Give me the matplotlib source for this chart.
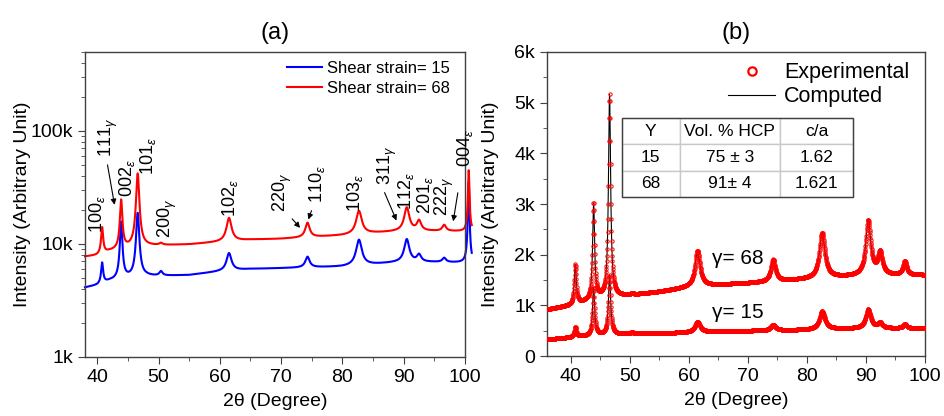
import matplotlib
matplotlib.use("Agg")
import matplotlib.pyplot as plt
import numpy as np
from matplotlib.lines import Line2D
from matplotlib.patches import Rectangle
from matplotlib.ticker import FuncFormatter, LogLocator, MultipleLocator, NullFormatter

plt.rcParams["font.family"] = ["Liberation Sans", "DejaVu Sans"]
plt.rcParams["mathtext.fontset"] = "custom"
plt.rcParams["mathtext.rm"] = "Liberation Sans"
plt.rcParams["mathtext.it"] = "Liberation Sans:italic"

# ---- panel (a): XRD patterns, log intensity ----
a_bg_x = [38, 40, 42, 45, 48, 50, 55, 60, 65, 70, 75, 80, 85, 88, 90, 95, 101.1]
a_bg_15 = [4100, 4300, 4700, 5000, 5200, 5200, 5300, 5700, 6000, 6100, 6200, 6300, 6600, 6800, 6900, 6900, 6800]
a_bg_68 = [7700, 7900, 8600, 9200, 9600, 9700, 9900, 10400, 10900, 11100, 11500, 11900, 12500, 12800, 13000, 13000, 12900]
a_peak_pos = [40.8, 43.9, 46.6, 50.4, 61.5, 74.3, 82.7, 90.5, 92.5, 96.6, 100.6]
a_peak_width = [0.18, 0.2, 0.25, 0.3, 0.45, 0.4, 0.5, 0.45, 0.4, 0.35, 0.12]
a_top_15 = [6800, 15700, 18800, 5700, 8300, 7700, 10900, 11000, 8000, 7500, 35000]
a_top_68 = [14000, 24500, 42000, 10100, 17000, 15400, 19600, 21000, 16000, 14700, 45000]

# peak labels: text, x, y (bottom of rotated text)
a_labels = ["$100_{\\varepsilon}$", "$111_{\\gamma}$", "$002_{\\varepsilon}$", "$101_{\\varepsilon}$",
            "$200_{\\gamma}$", "$102_{\\varepsilon}$", "$220_{\\gamma}$", "$110_{\\varepsilon}$",
            "$103_{\\varepsilon}$", "$311_{\\gamma}$", "$112_{\\varepsilon}$", "$201_{\\varepsilon}$",
            "$222_{\\gamma}$", "$004_{\\varepsilon}$"]
a_label_x = [40.0, 41.8, 44.9, 48.3, 51.4, 61.7, 70.2, 75.9, 82.1, 87.3, 90.4, 93.5, 96.7, 100.0]
a_label_y = [12500, 59000, 26000, 41000, 11300, 17400, 19200, 23000, 19200, 33000, 20000, 18500, 17500, 48000]
# arrows: start -> tip
a_arrows = [((41.6, 53000), (42.9, 21000)),
            ((71.5, 17400), (73.4, 13300)),
            ((75.1, 20800), (74.3, 15600)),
            ((86.7, 30000), (89.0, 15300)),
            ((98.9, 30000), (98.0, 15000))]

# ---- panel (b): Rietveld fit, linear intensity ----
b_bg_x = [36, 40, 45, 50, 55, 60, 65, 70, 75, 80, 85, 90, 95, 100]
b_bg_15 = [330, 370, 420, 440, 450, 470, 490, 500, 510, 520, 540, 550, 550, 550]
b_bg_68 = [920, 1000, 1150, 1200, 1270, 1360, 1410, 1440, 1480, 1520, 1560, 1590, 1600, 1600]
b_peak_pos = [40.8, 43.9, 46.6, 50.4, 61.5, 74.3, 82.6, 90.4, 92.4, 96.6]
b_peak_width = [0.2, 0.2, 0.22, 0.3, 0.5, 0.45, 0.55, 0.5, 0.45, 0.35]
b_top_15 = [570, 1350, 1600, 470, 680, 620, 880, 920, 650, 630]
b_top_68 = [1800, 3000, 5150, 1230, 2080, 1900, 2430, 2660, 2030, 1870]

table_cols = ["Y", "Vol. % HCP", "c/a"]
table_rows = [["15", "75 ± 3", "1.62"], ["68", "91± 4", "1.621"]]


def pattern(x, bg_x, bg_y, pos, width, top):
    bg = np.interp(x, bg_x, bg_y)
    y = bg.copy()
    for p, w, t in zip(pos, width, top):
        amp = t - np.interp(p, bg_x, bg_y)
        y += amp * w ** 2 / ((x - p) ** 2 + w ** 2)
    return y


fig = plt.figure(figsize=(9.44, 4.16), dpi=100)
ax_a = fig.add_axes([0.090, 0.142, 0.4026, 0.733])
ax_b = fig.add_axes([0.5794, 0.144, 0.4004, 0.731])

spine_col = "#404040"
for ax in (ax_a, ax_b):
    for s in ax.spines.values():
        s.set_color(spine_col)
        s.set_linewidth(1.0)
    ax.tick_params(which="both", direction="out", colors=spine_col, labelcolor="black",
                   labelsize=14, top=False, right=False)
    ax.tick_params(which="major", length=5)
    ax.tick_params(which="minor", length=3)

# panel (a)
xa = np.linspace(38, 101.1, 4000)
ya15 = pattern(xa, a_bg_x, a_bg_15, a_peak_pos, a_peak_width, a_top_15)
ya68 = pattern(xa, a_bg_x, a_bg_68, a_peak_pos, a_peak_width, a_top_68)
ax_a.plot(xa, ya15, color="#0000ff", lw=1.5, label="Shear strain= 15", clip_on=False)
ax_a.plot(xa, ya68, color="#ff0000", lw=1.5, label="Shear strain= 68", clip_on=False)
ax_a.set_yscale("log")
ax_a.set_xlim(38, 100)
ax_a.set_ylim(1000, 500000)
ax_a.set_yticks([1000, 10000, 100000])
ax_a.yaxis.set_major_formatter(FuncFormatter(lambda v, p: f"{v / 1000:g}k"))
ax_a.yaxis.set_minor_locator(LogLocator(base=10, subs=np.arange(2, 10)))
ax_a.yaxis.set_minor_formatter(NullFormatter())
ax_a.xaxis.set_major_locator(MultipleLocator(10))
ax_a.xaxis.set_minor_locator(MultipleLocator(5))
ax_a.set_xlabel("2θ (Degree)", fontsize=14, labelpad=5)
ax_a.set_ylabel("Intensity (Arbitrary Unit)", fontsize=14, labelpad=0)
ax_a.set_title("(a)", fontsize=17, pad=9)
ax_a.legend(loc="upper right", bbox_to_anchor=(1.0, 1.02), frameon=False, fontsize=12,
            handlelength=2.1, handletextpad=0.3, labelspacing=0.3)

for txt, lx, ly in zip(a_labels, a_label_x, a_label_y):
    ax_a.text(lx, ly, txt, rotation=90, ha="center", va="bottom", fontsize=13)
for (sx, sy), (tx, ty) in a_arrows:
    ax_a.annotate("", xy=(tx, ty), xytext=(sx, sy),
                  arrowprops=dict(arrowstyle="-|>", color="black", lw=0.8, mutation_scale=8))

# panel (b)
xb = np.linspace(36, 100, 1601)
yb15 = pattern(xb, b_bg_x, b_bg_15, b_peak_pos, b_peak_width, b_top_15)
yb68 = pattern(xb, b_bg_x, b_bg_68, b_peak_pos, b_peak_width, b_top_68)
for yb in (yb15, yb68):
    ax_b.plot(xb, yb, color="black", lw=0.8, zorder=2)
    ax_b.plot(xb, yb, ls="none", marker="o", ms=2.4, mfc="none", mec="#ff0000", mew=0.7, zorder=3)
ax_b.set_xlim(36, 100)
ax_b.set_ylim(0, 6000)
ax_b.yaxis.set_major_locator(MultipleLocator(1000))
ax_b.yaxis.set_minor_locator(MultipleLocator(500))
ax_b.yaxis.set_major_formatter(FuncFormatter(lambda v, p: "0" if v == 0 else f"{v / 1000:g}k"))
ax_b.xaxis.set_major_locator(MultipleLocator(10))
ax_b.xaxis.set_minor_locator(MultipleLocator(5))
ax_b.set_xlabel("2θ (Degree)", fontsize=14, labelpad=5)
ax_b.set_ylabel("Intensity (Arbitrary Unit)", fontsize=14, labelpad=11)
ax_b.set_title("(b)", fontsize=17, pad=9)
ax_b.text(68.4, 1930, "γ= 68", fontsize=15, ha="center", va="center")
ax_b.text(68.4, 870, "γ= 15", fontsize=15, ha="center", va="center")

handles = [Line2D([], [], ls="none", marker="o", ms=6, mfc="none", mec="#ff0000", mew=1.6),
           Line2D([], [], color="black", lw=0.8)]
ax_b.legend(handles, ["Experimental", "Computed"], loc="upper right", bbox_to_anchor=(1.01, 1.03),
            frameon=False, fontsize=15.5, handlelength=2.2, handletextpad=0.4, labelspacing=0.15)

tbl = ax_b.table(cellText=table_rows, colLabels=table_cols, cellLoc="center",
                 colWidths=[0.251, 0.433, 0.316], bbox=[0.198, 0.523, 0.612, 0.26])
tbl.auto_set_font_size(False)
tbl.set_fontsize(12.5)
for cell in tbl.get_celld().values():
    cell.set_edgecolor("#c8c8c8")
    cell.set_linewidth(1.0)
ax_b.add_patch(Rectangle((0.198, 0.523), 0.612, 0.26, transform=ax_b.transAxes,
                         fill=False, edgecolor=spine_col, lw=1.0, zorder=10))

fig.savefig("out.png", dpi=100)
